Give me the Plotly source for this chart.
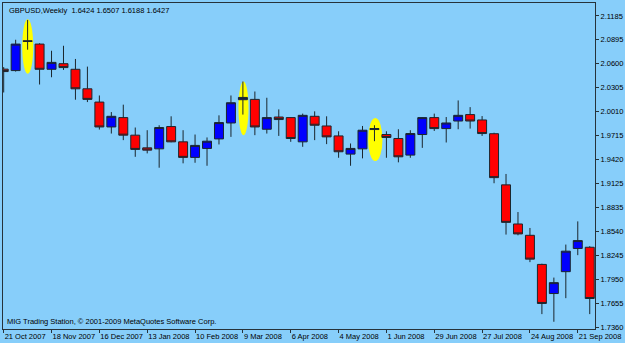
import plotly.graph_objects as go

# Weekly GBPUSD candles, week index 0 = week of 21 Oct 2007
opens = [2.0531, 2.0513, 2.0880, 2.0839, 2.0529, 2.0598, 2.0529, 2.0289, 2.0126, 1.9820,
         1.9935, 1.9719, 1.9563, 1.9551, 1.9825, 1.9637, 1.9446, 1.9556, 1.9673, 1.9869,
         2.0155, 2.0159, 1.9792, 1.9942, 1.9935, 1.9637, 1.9951, 1.9832, 1.9710, 1.9486,
         1.9551, 1.9788, 1.9727, 1.9678, 1.9474, 1.9727, 1.9935, 1.9800, 1.9893, 1.9972,
         1.9906, 1.9737, 1.9108, 1.8627, 1.8488, 1.8130, 1.7772, 1.8041, 1.8326, 1.8341]
highs = [2.0556, 2.0892, 2.1136, 2.0849, 2.0757, 2.0818, 2.0656, 2.0562, 2.0207, 2.0003,
         2.0094, 1.9813, 1.9780, 1.9841, 1.9951, 1.9780, 1.9727, 1.9691, 1.9963, 2.0207,
         2.0379, 2.0256, 2.0179, 2.0036, 1.9940, 1.9984, 2.0012, 1.9951, 1.9767, 1.9617,
         1.9832, 1.9841, 1.9767, 1.9792, 1.9780, 1.9940, 1.9984, 1.9942, 2.0146, 2.0064,
         1.9954, 1.9749, 1.9242, 1.8774, 1.8578, 1.8139, 1.7968, 1.8374, 1.8659, 1.8354]
lows = [2.0244, 2.0501, 2.0770, 2.0342, 2.0431, 2.0521, 2.0155, 2.0126, 1.9788, 1.9739,
        1.9658, 1.9453, 1.9495, 1.9319, 1.9632, 1.9373, 1.9380, 1.9343, 1.9605, 1.9698,
        1.9972, 1.9719, 1.9739, 1.9710, 1.9637, 1.9576, 1.9658, 1.9609, 1.9441, 1.9343,
        1.9434, 1.9645, 1.9441, 1.9385, 1.9441, 1.9563, 1.9771, 1.9629, 1.9792, 1.9800,
        1.9710, 1.9128, 1.8497, 1.8488, 1.8158, 1.7519, 1.7425, 1.7715, 1.8244, 1.7519]
closes = [2.0501, 2.0839, 2.0872, 2.0529, 2.0614, 2.0550, 2.0289, 2.0159, 1.9820, 1.9951,
          1.9719, 1.9544, 1.9535, 1.9813, 1.9637, 1.9446, 1.9593, 1.9645, 1.9874, 2.0118,
          2.0183, 1.9820, 1.9935, 1.9911, 1.9678, 1.9963, 1.9841, 1.9698, 1.9515, 1.9556,
          1.9780, 1.9800, 1.9691, 1.9453, 1.9739, 1.9935, 1.9800, 1.9869, 1.9963, 1.9893,
          1.9739, 1.9197, 1.8647, 1.8505, 1.8195, 1.7650, 1.7906, 1.8293, 1.8423, 1.7711]

week_index = list(range(len(opens)))
tick_weeks = [0, 4, 8, 12, 16, 20, 24, 28, 32, 36, 40, 44, 48]
tick_labels = ["21 Oct 2007", "18 Nov 2007", "16 Dec 2007", "13 Jan 2008", "10 Feb 2008",
               "9 Mar 2008", "6 Apr 2008", "4 May 2008", "1 Jun 2008", "29 Jun 2008",
               "27 Jul 2008", "24 Aug 2008", "21 Sep 2008"]
price_ticks = [2.1185, 2.0895, 2.0600, 2.0305, 2.0010, 1.9715, 1.9420, 1.9125,
               1.8835, 1.8540, 1.8245, 1.7950, 1.7655, 1.7360]

# highlighted candles: (x from, x to, price low, price high)
highlight_x0 = [1.55, 19.63, 30.47]
highlight_x1 = [2.47, 20.47, 31.67]
highlight_y0 = [2.0473, 1.9719, 1.9401]
highlight_y1 = [2.1145, 2.0379, 1.9930]

BG = "#87CEFA"
AX = "#26323a"
FONT = "Liberation Sans"
FS = 7.5

fig = go.Figure()
fig.add_trace(go.Candlestick(
    x=week_index, open=opens, high=highs, low=lows, close=closes,
    increasing=dict(fillcolor="#0000FF", line=dict(color="#1b262d", width=1)),
    decreasing=dict(fillcolor="#FF0000", line=dict(color="#1b262d", width=1)),
    whiskerwidth=0, hoverinfo="skip", showlegend=False,
))

for x0, x1, y0, y1 in zip(highlight_x0, highlight_x1, highlight_y0, highlight_y1):
    fig.add_shape(type="circle", xref="x", yref="y", x0=x0, x1=x1, y0=y0, y1=y1,
                  fillcolor="#FFFF00", line=dict(width=0), layer="below")

fig.add_annotation(text="GBPUSD,Weekly  1.6424 1.6507 1.6188 1.6427",
                   xref="paper", yref="paper", x=0.006, y=1, xanchor="left", yanchor="top",
                   yshift=-1, showarrow=False, font=dict(family=FONT, size=FS, color="#000000"))
fig.add_annotation(text="MIG Trading Station, © 2001-2009 MetaQuotes Software Corp.",
                   xref="paper", yref="paper", x=0.003, y=0, xanchor="left", yanchor="bottom",
                   yshift=1, showarrow=False, font=dict(family=FONT, size=FS, color="#000000"))

fig.update_layout(
    width=625, height=343,
    margin=dict(l=2, r=29, t=2, b=13),
    paper_bgcolor=BG, plot_bgcolor=BG,
    boxgap=0.25, boxgroupgap=0,
    font=dict(family=FONT, size=FS, color="#000000"),
    xaxis=dict(
        range=[-0.058, 49.44], rangeslider=dict(visible=False),
        tickmode="array", tickvals=tick_weeks, ticktext=tick_labels,
        ticks="outside", ticklen=3, tickcolor=AX, ticklabelposition="outside right",
        tickangle=0, ticklabelstandoff=0,
        showgrid=False, zeroline=False, showline=True, linecolor=AX, linewidth=1, mirror=True,
        tickfont=dict(family=FONT, size=FS, color="#000000"),
    ),
    yaxis=dict(
        range=[1.7336, 2.1344], side="right",
        tickmode="array", tickvals=price_ticks, ticktext=[f"{v:.4f}" for v in price_ticks],
        ticks="outside", ticklen=3, tickcolor=AX,
        showgrid=False, zeroline=False, showline=True, linecolor=AX, linewidth=1, mirror=True,
        tickfont=dict(family=FONT, size=FS, color="#000000"),
    ),
)

fig.write_html("out.html")
